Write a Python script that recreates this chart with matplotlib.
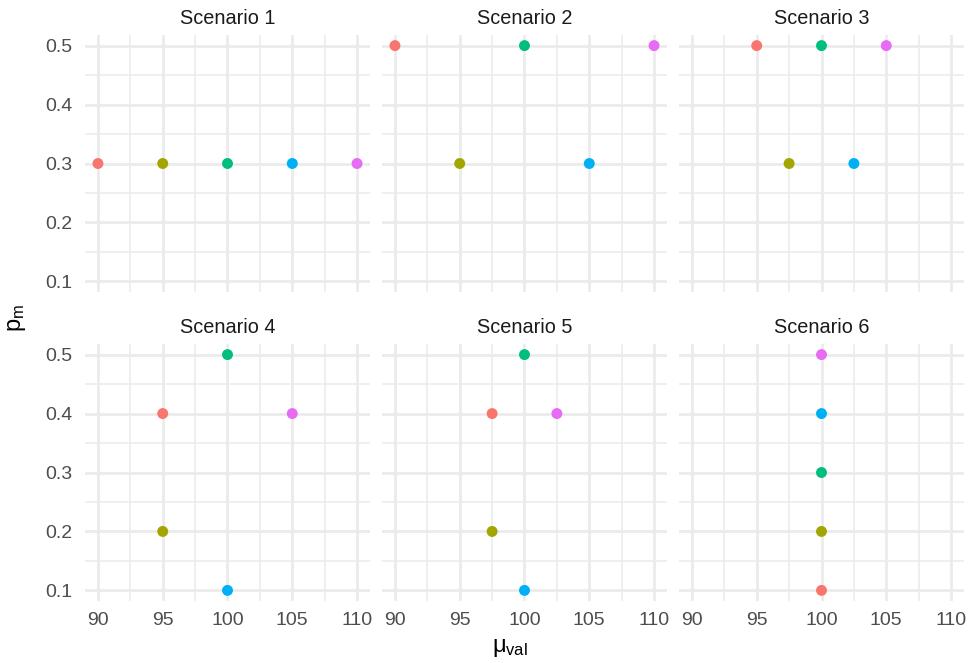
import matplotlib.pyplot as plt

plt.rcParams['font.family'] = ['Liberation Sans', 'DejaVu Sans']
plt.rcParams['mathtext.fontset'] = 'custom'
plt.rcParams['mathtext.rm'] = 'Liberation Sans'
plt.rcParams['mathtext.it'] = 'Liberation Sans'

scenarios = ['Scenario 1', 'Scenario 2', 'Scenario 3',
             'Scenario 4', 'Scenario 5', 'Scenario 6']

# one row per scenario, five groups each
mu_val = [
    [90, 95, 100, 105, 110],
    [90, 95, 100, 105, 110],
    [95, 97.5, 100, 102.5, 105],
    [95, 95, 100, 100, 105],
    [97.5, 97.5, 100, 100, 102.5],
    [100, 100, 100, 100, 100],
]
p_m = [
    [0.3, 0.3, 0.3, 0.3, 0.3],
    [0.5, 0.3, 0.5, 0.3, 0.5],
    [0.5, 0.3, 0.5, 0.3, 0.5],
    [0.4, 0.2, 0.5, 0.1, 0.4],
    [0.4, 0.2, 0.5, 0.1, 0.4],
    [0.1, 0.2, 0.3, 0.4, 0.5],
]
group_colors = ['#F8766D', '#A3A500', '#00BF7D', '#00B0F6', '#E76BF3']

x_ticks = [90, 95, 100, 105, 110]
x_minor = [92.5, 97.5, 102.5, 107.5]
y_ticks = [0.1, 0.2, 0.3, 0.4, 0.5]
y_minor = [0.15, 0.25, 0.35, 0.45]

W, H = 978, 663
fig = plt.figure(figsize=(W / 100, H / 100), dpi=100)

col_left = [85, 382, 679]
col_w = 285
row_top = [35, 344]
row_h = 257

for i, name in enumerate(scenarios):
    r, c = divmod(i, 3)
    ax = fig.add_axes([col_left[c] / W, 1 - (row_top[r] + row_h) / H,
                       col_w / W, row_h / H])
    ax.set_xlim(89, 111)
    ax.set_ylim(0.082, 0.518)
    for v in x_minor:
        ax.axvline(v, color='#EBEBEB', lw=1.1, zorder=0)
    for v in y_minor:
        ax.axhline(v, color='#EBEBEB', lw=1.1, zorder=0)
    for v in x_ticks:
        ax.axvline(v, color='#EBEBEB', lw=2.0, zorder=0)
    for v in y_ticks:
        ax.axhline(v, color='#EBEBEB', lw=2.0, zorder=0)
    ax.scatter(mu_val[i], p_m[i], c=group_colors, s=62, linewidths=0, zorder=3)
    for s in ax.spines.values():
        s.set_visible(False)
    ax.set_xticks(x_ticks)
    ax.set_yticks(y_ticks)
    ax.tick_params(length=0, labelsize=14, colors='#4D4D4D')
    ax.tick_params(axis='x', pad=8)
    ax.tick_params(axis='y', pad=9)
    ax.set_xticklabels([str(v) for v in x_ticks] if r == 1 else [])
    ax.set_yticklabels([str(v) for v in y_ticks] if c == 0 else [])
    ax.set_title(name, fontsize=14.3, color='#1A1A1A', pad=8)

fig.text(510 / W, 1 - 648 / H, r'$\mu_{\mathrm{val}}$', fontsize=17,
         ha='center', va='center')
fig.text(17 / W, 1 - 318 / H, r'$\mathrm{p}_{\mathrm{m}}$', fontsize=17,
         ha='center', va='center', rotation=90)

fig.savefig('out.png', dpi=100, facecolor='white')
